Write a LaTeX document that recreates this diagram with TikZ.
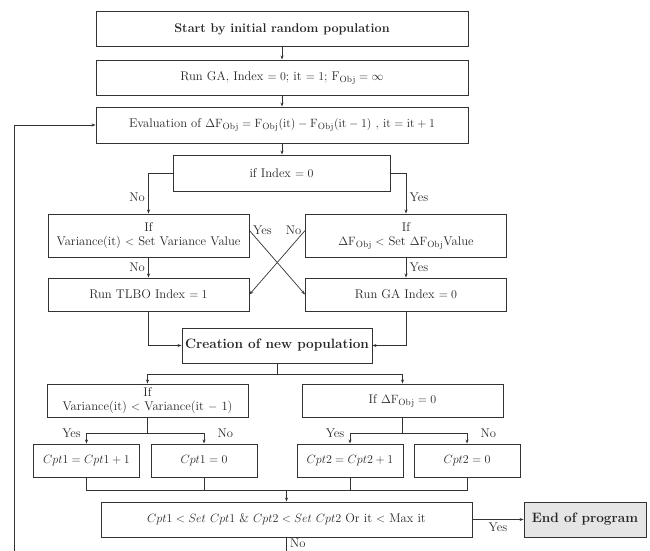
\documentclass[tikz,border=0pt]{standalone}
\usepackage{amsmath, amssymb}
\usetikzlibrary{positioning}
\usetikzlibrary{arrows.meta}
\tikzset{
every node/.style={ % Sets the text for each node
font=\fontsize{12.6}{14}\selectfont,
text=black!85},
box/.style={ % Sets the properties for each block
draw=black!80,
line width=0.9pt,
align=center,
inner sep=1pt},
wide/.style={box, minimum width=372pt, minimum height=35pt},
mid/.style={box, minimum width=201pt, minimum height=34pt},
small/.style={box, minimum width=106pt, minimum height=33pt},
flow/.style={ % Sets the properties for each connector
draw=black!80,
line width=0.7pt},
>={Stealth[length=4pt,width=3pt]}}

\begin{document}
\begin{tikzpicture}[x=1pt, y=-1pt]
	\useasboundingbox (0,0) rectangle (650,551);
	\clip (0,0) rectangle (650,551);
	\node[wide] (start) at (282,29) {\textbf{Start by initial random population}};
	\node[wide] (runga) at (282,77.5) {Run GA, Index $= 0$; it $= 1$; F$_{\mathrm{Obj}} = \infty$};
	\node[wide, minimum height=36pt] (eval) at (282,125) {Evaluation of $\Delta\mathrm{F_{Obj}} = \mathrm{F_{Obj}(it)} - \mathrm{F_{Obj}(it-1)}$ , $\mathrm{it} = \mathrm{it} + 1$};
	\node[box, minimum width=217pt, minimum height=36pt] (ifindex) at (281.5,173) {if Index $= 0$};
	\node[mid, minimum height=43pt] (ifvar) at (148.5,235.5) {If\\Variance(it) $<$ Set Variance Value};
	\node[mid, minimum height=43pt] (ifdf) at (406,235.5) {If\\$\Delta\mathrm{F_{Obj}} <$ Set $\Delta\mathrm{F_{Obj}}$Value};
	\node[mid, minimum height=33pt] (tlbo) at (148.5,294.5) {Run TLBO Index $= 1$};
	\node[mid, minimum height=33pt] (rungb) at (406,294.5) {Run GA Index $= 0$};
	\node[box, minimum width=190pt, minimum height=35pt, font=\fontsize{13.6}{15}\selectfont\bfseries] (creation) at (277,345.5) {Creation of new population};
	\node[mid, minimum height=33pt] (ifvarb) at (147.5,400.5) {If\\Variance(it) $<$ Variance(it $-$ 1)};
	\node[mid, minimum height=33pt] (ifdfz) at (402.5,400.5) {If $\Delta\mathrm{F_{Obj}} = 0$};
	\node[small] (cpta) at (86.5,460.5) {$Cpt1 = Cpt1 + 1$};
	\node[small] (cptb) at (204,460.5) {$Cpt1 = 0$};
	\node[small] (cptc) at (350,460.5) {$Cpt2 = Cpt2 + 1$};
	\node[small] (cptd) at (467,460.5) {$Cpt2 = 0$};
	\node[wide, minimum width=371pt] (cond) at (286.5,519.5) {$Cpt1 < Set\ Cpt1$ \& $Cpt2 < Set\ Cpt2$ Or it $<$ Max it};
	\node[box, minimum width=122pt, minimum height=35pt, fill=gray!20, font=\fontsize{13.6}{15}\selectfont\bfseries] (endp) at (585,519.5) {End of program};
	\coordinate (split) at (277,374);
	\coordinate (forka) at (147.5,433);
	\coordinate (forkb) at (402.5,433);
	\coordinate (join) at (286.5,490);
	\coordinate (bot) at (286.5,565);
	\coordinate (lft) at (14,565);
	% main line
	\draw[flow, ->] (start) -- (runga);
	\draw[flow, ->] (runga) -- (eval);
	\draw[flow, ->] (eval.south) -- (eval.south |- ifindex.north);
	\draw[flow, ->] (ifindex.west) -| node[pos=0.8, left]{No} (ifvar.north);
	\draw[flow, ->] (ifindex.east) -| node[pos=0.8, right]{Yes} (ifdf.north);
	\draw[flow, ->] (ifvar.south) -- node[left]{No} (tlbo.north);
	\draw[flow, ->] (ifdf.south) -- node[right]{Yes} (rungb.north);
	\draw[flow, ->] ([yshift=5pt]ifvar.east) -- node[pos=0, anchor=west]{Yes} (rungb.west);
	\draw[flow, ->] ([yshift=5pt]ifdf.west) -- node[pos=0, anchor=east]{No} (tlbo.east);
	\draw[flow, ->] (tlbo.south) |- (creation.west);
	\draw[flow, ->] (rungb.south) |- (creation.west -| creation.east);
	% second test
	\draw[flow] (creation.south) -- (split);
	\draw[flow, ->] (split) -| (ifvarb.north);
	\draw[flow, ->] (split) -| (ifdfz.north);
	\draw[flow] (ifvarb.south) -- (forka);
	\draw[flow, ->] (forka) -| node[pos=0.5, left, xshift=-2pt]{Yes} (cpta.north);
	\draw[flow, ->] (forka) -| node[pos=0.5, right, xshift=10pt]{No} (cptb.north);
	\draw[flow] (ifdfz.south) -- (forkb);
	\draw[flow, ->] (forkb) -| node[pos=0.5, left, xshift=-2pt]{Yes} (cptc.north);
	\draw[flow, ->] (forkb) -| node[pos=0.5, right, xshift=10pt]{No} (cptd.north);
	% counters
	\draw[flow] (cpta.south) |- (join);
	\draw[flow] (cptd.south) |- (join);
	\draw[flow] (cptb.south) -- (cptb.south |- join);
	\draw[flow] (cptc.south) -- (cptc.south |- join);
	\draw[flow, ->] (join) -- (cond.north);
	\draw[flow, ->] (cond.east) -- node[below]{Yes} (endp.west);
	% back to evaluation
	\draw[flow, ->] (cond.south) -- node[pos=0.2, right]{No} (bot) -- (lft) |- (eval.west);
\end{tikzpicture}
\end{document}
